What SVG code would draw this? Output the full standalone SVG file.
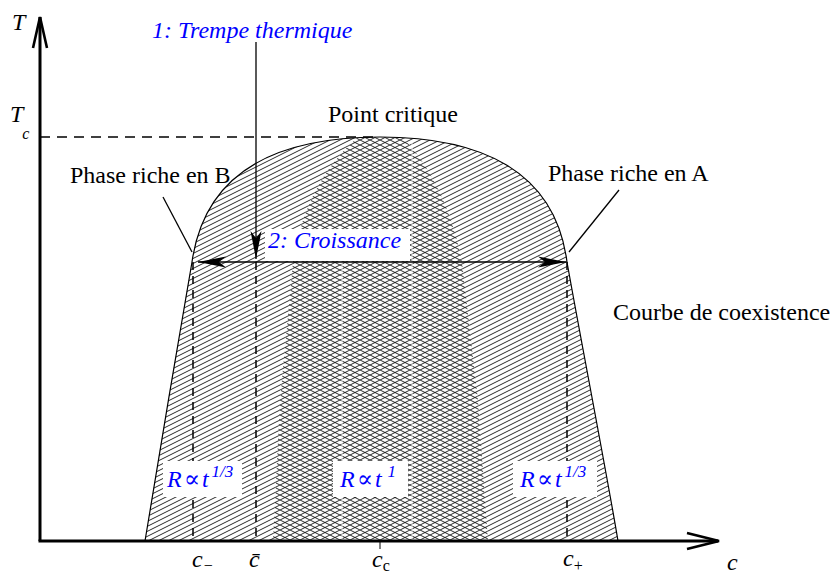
<svg xmlns="http://www.w3.org/2000/svg" width="837" height="576" viewBox="0 0 837 576" font-family="'Liberation Serif', 'Times New Roman', 'DejaVu Serif', serif">
<style>
text{font-family:'Liberation Serif','Times New Roman','DejaVu Serif',serif;font-size:24px;fill:#000}
.it{font-style:italic}
.blue{fill:#0000ff;font-style:italic}
.sub{font-size:16px}
.sup{font-size:17px}
.axis{fill:none;stroke:#000;stroke-width:3;stroke-linecap:butt}
.thin{fill:none;stroke:#000;stroke-width:1.3}
.dash{fill:none;stroke:#000;stroke-width:1.5;stroke-dasharray:8 6}
.box{fill:#fff;stroke:none}
</style>
<defs>
<pattern id="hatch" patternUnits="userSpaceOnUse" width="10" height="5">
<path d="M-1,5.5 L11,-0.5 M-11,5.5 L1,-0.5 M9,5.5 L21,-0.5" stroke="#111" stroke-width="0.9" fill="none"/>
</pattern>
<pattern id="cross" patternUnits="userSpaceOnUse" width="10" height="5">
<path d="M-2,6 L12,-1 M-2,-1 L12,6" stroke="#111" stroke-width="0.9" fill="none"/>
</pattern>
<clipPath id="domeClip">
<path d="M145,541 C155,480 180,330 192,262 C205,170 280,137 380,137 C480,137 555,170 567,262 C579,330 608,480 618,541 Z"/>
</clipPath>
<marker id="ah" viewBox="-30 -7 31 14" refX="0" refY="0" markerWidth="31" markerHeight="14" markerUnits="userSpaceOnUse" orient="auto-start-reverse">
<path d="M0,0 L-28,-5.5 L-21,0 L-28,5.5 Z" fill="#000"/>
</marker>
</defs>
<rect width="837" height="576" fill="#fff"/>

<g id="coexistence-dome">
<path d="M145,541 C155,480 180,330 192,262 C205,170 280,137 380,137 C480,137 555,170 567,262 C579,330 608,480 618,541 Z" fill="url(#hatch)" stroke="none"/>
<g clip-path="url(#domeClip)">
<path d="M273,541 L280,400 L293,262 C300,215 320,170 357,138 L403,138 C430,165 452,210 462,262 L478,400 L488,541 Z" fill="#fff"/>
<path d="M273,541 L280,400 L293,262 C300,215 320,170 357,138 L403,138 C430,165 452,210 462,262 L478,400 L488,541 Z" fill="url(#cross)"/>
<path d="M342,262 V541 M412,140 V541" stroke="#fff" stroke-width="1" opacity="0.85"/>
</g>
<path d="M145,541 C155,480 180,330 192,262 C205,170 280,137 380,137 C480,137 555,170 567,262 C579,330 608,480 618,541" fill="none" stroke="#000" stroke-width="1.2"/>
</g>

<g id="connectors">
<line class="dash" x1="40" y1="137" x2="380" y2="137" style="stroke-dasharray:10 7;stroke-width:1.3"/>
<line class="dash" x1="193" y1="262" x2="193" y2="541"/>
<line class="dash" x1="256" y1="262" x2="256" y2="541"/>
<line class="dash" x1="567" y1="262" x2="567" y2="541"/>
<line class="thin" x1="256" y1="42" x2="256" y2="259" marker-end="url(#ah)"/>
<line class="thin" x1="163" y1="197" x2="192" y2="252"/>
<line class="thin" x1="619" y1="190" x2="569" y2="252"/>
<line x1="380" y1="541" x2="380" y2="549" stroke="#000" stroke-width="1"/>
</g>

<g id="label-croissance">
<rect class="box" x="265" y="229" width="145" height="32"/>
<text class="blue" x="268" y="248" font-family="'Liberation Serif', serif">2: Croissance</text>
</g>
<g id="arrow-croissance">
<line class="thin" x1="198" y1="262" x2="566" y2="262" marker-start="url(#ah)" marker-end="url(#ah)"/>
</g>

<g id="axes">
<polyline class="axis" points="40,541 40,17"/>
<polyline class="axis" points="33,48 40,17 47,48" style="stroke-width:2.6"/>
<polyline class="axis" points="38.5,541 718,541"/>
<polyline class="axis" points="687,533 719,541 687,549" style="stroke-width:2.6"/>
</g>

<g id="axis-labels">
<text class="it" x="12" y="30" font-family="'Liberation Serif', serif">T</text>
<text class="it" x="10" y="122" font-family="'Liberation Serif', serif">T<tspan class="sub" dx="-1" dy="17">c</tspan></text>
<text class="it" x="192" y="567" font-family="'Liberation Serif', serif">c<tspan class="sub" dy="4">−</tspan></text>
<text class="it" x="249" y="567" font-family="'Liberation Serif', serif">c̄</text>
<text class="it" x="372" y="567" font-family="'Liberation Serif', serif">c<tspan class="sub" font-style="normal" dy="4">c</tspan></text>
<text class="it" x="563" y="566" font-family="'Liberation Serif', serif">c<tspan class="sub" font-style="normal" dy="5">+</tspan></text>
<text class="it" x="727" y="570" font-family="'Liberation Serif', serif">c</text>
</g>

<g id="label-trempe">
<text class="blue" x="152" y="38" font-family="'Liberation Serif', serif">1: Trempe thermique</text>
</g>
<g id="label-point-critique">
<text x="328" y="122" font-family="'Liberation Serif', serif">Point critique</text>
</g>
<g id="label-phase-B">
<text x="70" y="183" font-family="'Liberation Serif', serif">Phase riche en B</text>
</g>
<g id="label-phase-A">
<text x="548" y="181" font-family="'Liberation Serif', serif">Phase riche en A</text>
</g>
<g id="label-courbe">
<text x="613" y="320" font-family="'Liberation Serif', serif">Courbe de coexistence</text>
</g>

<g id="label-R-left">
<rect class="box" x="163" y="461" width="79" height="36"/>
<text class="blue" x="167" y="487" font-family="'Liberation Serif', 'DejaVu Serif', serif">R<tspan font-style="normal" dx="2">∝</tspan><tspan dx="2">t</tspan><tspan class="sup" dx="3" dy="-10">1/3</tspan></text>
</g>
<g id="label-R-middle">
<rect class="box" x="333" y="461" width="75" height="36"/>
<text class="blue" x="340" y="487" font-family="'Liberation Serif', 'DejaVu Serif', serif">R<tspan font-style="normal" dx="2">∝</tspan><tspan dx="2">t</tspan><tspan class="sup" dx="6" dy="-10">1</tspan></text>
</g>
<g id="label-R-right">
<rect class="box" x="513" y="461" width="84" height="36"/>
<text class="blue" x="520" y="487" font-family="'Liberation Serif', 'DejaVu Serif', serif">R<tspan font-style="normal" dx="2">∝</tspan><tspan dx="2">t</tspan><tspan class="sup" dx="3" dy="-10">1/3</tspan></text>
</g>
</svg>
